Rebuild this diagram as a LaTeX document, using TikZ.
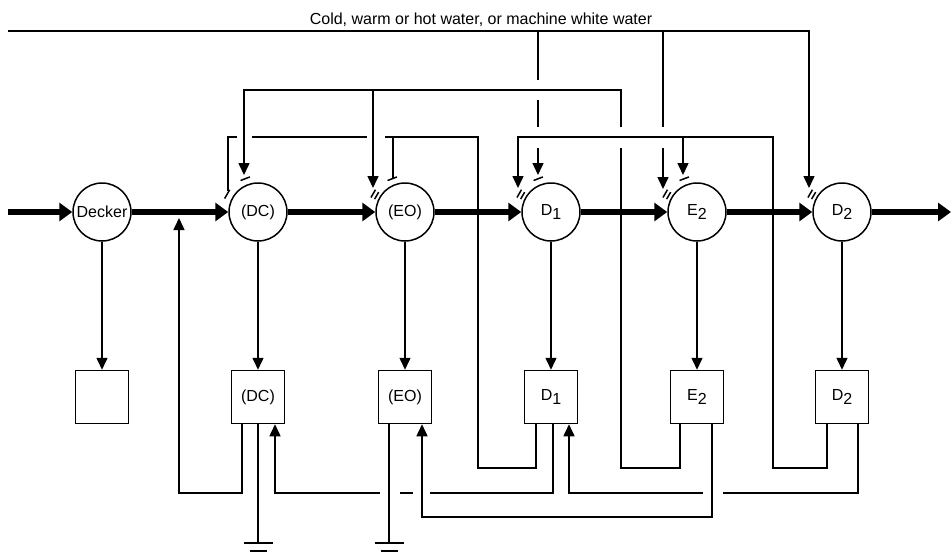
\documentclass[tikz,border=0pt]{standalone}
\usepackage{fontspec}
\setmainfont{Liberation Sans}
\usetikzlibrary{arrows.meta,calc}
\newcommand\lsub[1]{\raisebox{-4.5pt}{#1}}
\newcommand\dblmark[2]{\draw ($(#1)+(#2-7:33)$) -- ($(#1)+(#2+7:33)$); \draw ($(#1)+(#2-7:37)$) -- ($(#1)+(#2+7:37)$);}
\newcommand\sglmark[2]{\draw ($(#1)+(#2-8:36)$) -- ($(#1)+(#2+8:36)$);}
\begin{document}
\begin{tikzpicture}[x=1pt,y=-1pt,line width=1.5pt,
  every node/.style={font=\fontsize{16}{18}\selectfont},
  circ/.style={draw,circle,minimum size=58pt,inner sep=0pt},
  tank/.style={draw,minimum size=53pt,inner sep=0pt},
  arr/.style={-{Triangle[width=11pt,length=12pt]}},
  stock/.style={line width=6.5pt,-{Triangle[width=18pt,length=13pt]}}]
\useasboundingbox (0,0) rectangle (951,555);
% title
\node[inner sep=0pt] (title) at (481,20) {Cold, warm or hot water, or machine white water};
% washers
\node[circ] (deck) at (102,212) {Decker};
\node[circ] (dc) at (258,212) {(DC)};
\node[circ] (eo) at (405,212) {(EO)};
\node[circ] (d1) at (551,212) {D\lsub{1}};
\node[circ] (e2) at (697,212) {E\lsub{2}};
\node[circ] (d2) at (842,212) {D\lsub{2}};
% filtrate tanks
\node[tank] (bdeck) at (102,397) {};
\node[tank] (bdc) at (258,397) {(DC)};
\node[tank] (beo) at (405,397) {(EO)};
\node[tank] (bd1) at (551,397) {D\lsub{1}};
\node[tank] (be2) at (697,397) {E\lsub{2}};
\node[tank] (bd2) at (842,397) {D\lsub{2}};
% pulp line
\coordinate (in) at (8,212);
\coordinate (out) at (951,212);
\draw[stock] (in) -- (deck);
\draw[stock] (deck) -- (dc);
\draw[stock] (dc) -- (eo);
\draw[stock] (eo) -- (d1);
\draw[stock] (d1) -- (e2);
\draw[stock] (e2) -- (d2);
\draw[stock] (d2) -- (out);
% washer to tank
\draw[arr] (deck) -- (bdeck);
\draw[arr] (dc) -- (bdc);
\draw[arr] (eo) -- (beo);
\draw[arr] (d1) -- (bd1);
\draw[arr] (e2) -- (be2);
\draw[arr] (d2) -- (bd2);
% inlet tips
\coordinate (tdc) at (244,175);
\coordinate (ldc) at (228,191);
\coordinate (teo) at (373,188);
\coordinate (seo) at (393,178);
\coordinate (td1d) at (518,188);
\coordinate (td1s) at (538,175);
\coordinate (te2d) at (663,189);
\coordinate (te2s) at (683,175);
\coordinate (td2d) at (809,188);
% marks
\sglmark{dc}{249}
\sglmark{dc}{210}
\dblmark{eo}{210}
\sglmark{eo}{249}
\dblmark{d1}{210}
\sglmark{d1}{249}
\dblmark{e2}{210}
\sglmark{e2}{249}
\dblmark{d2}{210}
% fresh water
\coordinate (w0) at (8,31);
\draw[arr] (w0) -- (809,31) -- (td2d);
\draw (538,31) -- (538,80);
\draw (538,100) -- (538,127);
\draw[arr] (538,148) -- (td1s);
\draw (663,31) -- (663,127);
\draw[arr] (663,148) -- (te2d);
% E2 filtrate to DC and EO
\draw ([xshift=-17pt]be2.south) |- (621,468) -- (621,148);
\draw[arr] (621,127) -- (621,90) -- (244,90) -- (tdc);
\draw[arr] (373,90) -- (teo);
% D1 filtrate to DC and EO
\draw ([xshift=-15pt]bd1.south) |- (478,468) -- (478,137) -- (385,137);
\draw (367,137) -- (252,137);
\draw (237,137) -- (228,137) -- (ldc);
\draw (393,137) -- (seo);
% D2 filtrate to D1 and E2
\draw[arr] ([xshift=-15pt]bd2.south) |- (773,468) -- (773,137) -- (518,137) -- (td1d);
\draw[arr] (683,137) -- (te2s);
% bottom returns
\coordinate (tmain) at (179,218);
\draw[arr] ([xshift=-16pt]bdc.south) |- (179,493) -- (tmain);
\coordinate (g1) at (258,543);
\draw (bdc.south) -- (g1);
\draw ($(g1)+(-14.5,0)$) -- ($(g1)+(14.5,0)$);
\draw ($(g1)+(-8.5,8)$) -- ($(g1)+(8.5,8)$);
\coordinate (g2) at (389,543);
\draw ([xshift=-16pt]beo.south) -- (g2);
\draw ($(g2)+(-14.5,0)$) -- ($(g2)+(14.5,0)$);
\draw ($(g2)+(-8.5,8)$) -- ($(g2)+(8.5,8)$);
\draw ([xshift=2pt]bd1.south) |- (430,493);
\draw (413,493) -- (400,493);
\draw[arr] (380,493) -| ([xshift=17pt]bdc.south);
\draw[arr] ([xshift=15pt]be2.south) |- (600,517) -| ([xshift=17pt]beo.south);
\draw ([xshift=16pt]bd2.south) |- (723,493);
\draw[arr] (703,493) -| ([xshift=18pt]bd1.south);
\end{tikzpicture}
\end{document}
